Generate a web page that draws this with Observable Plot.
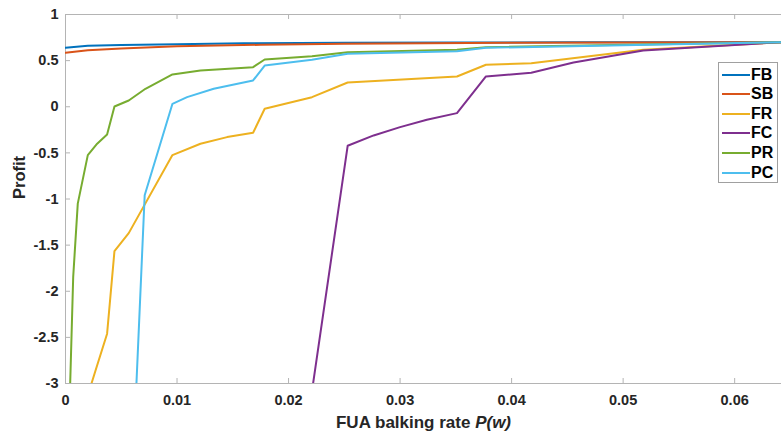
<!DOCTYPE html>
<html><head><meta charset="utf-8">
<script src="https://cdn.jsdelivr.net/npm/d3@7"></script>
<script src="https://cdn.jsdelivr.net/npm/@observablehq/plot@0.6"></script>
<style>
body{margin:0;background:#fff;}
#wrap{position:relative;width:781px;height:431px;overflow:hidden}
#legend{position:absolute;left:718px;top:62px;width:60px;height:121px;border:1px solid #a0a0a0;background:#fff;box-sizing:border-box;font:bold 16px "Liberation Sans",Arial,sans-serif;color:#000}
.item{position:absolute;left:0;height:20px;display:flex;align-items:center;white-space:nowrap}
.sw{width:28px;height:2px;margin-left:3px;margin-right:1px}
</style></head><body><div id="wrap"><div id="legend"></div></div>
<script>
const seriesNames = ["FB", "SB", "FR", "FC", "PR", "PC"];
const seriesColors = ["#0072BD", "#D95319", "#EDB120", "#7E2F8E", "#77AC30", "#4DBEEE"];

const fbX = [0, 0.002, 0.005, 0.01, 0.016, 0.025, 0.035, 0.045, 0.055, 0.0642];
const fbY = [0.640, 0.660, 0.670, 0.678, 0.688, 0.693, 0.696, 0.698, 0.699, 0.700];

const sbX = [0, 0.001, 0.002, 0.005, 0.01, 0.0175, 0.025, 0.04, 0.05, 0.0642];
const sbY = [0.585, 0.600, 0.612, 0.632, 0.655, 0.672, 0.682, 0.693, 0.697, 0.700];

const frX = [0.00233, 0.0027, 0.00373, 0.00439, 0.00567, 0.00959, 0.0121, 0.01449, 0.01682, 0.01786, 0.0221, 0.0253, 0.0351, 0.0377, 0.04176, 0.0518, 0.0642];
const frY = [-3, -2.857, -2.46, -1.565, -1.37, -0.524, -0.401, -0.329, -0.282, -0.022, 0.104, 0.263, 0.328, 0.455, 0.472, 0.617, 0.700];

const fcX = [0.0222, 0.0253, 0.02763, 0.0300, 0.0324, 0.0351, 0.0377, 0.04176, 0.04555, 0.0518, 0.0642];
const fcY = [-3, -0.423, -0.311, -0.221, -0.141, -0.069, 0.328, 0.368, 0.480, 0.610, 0.700];

const prX = [0.00042, 0.00069, 0.0011, 0.002, 0.00284, 0.00373, 0.00439, 0.00567, 0.00717, 0.00959, 0.0121, 0.01682, 0.01786, 0.0221, 0.0253, 0.0351, 0.0377, 0.0642];
const prY = [-3, -1.846, -1.05, -0.524, -0.40, -0.30, 0.003, 0.068, 0.195, 0.350, 0.393, 0.429, 0.512, 0.548, 0.592, 0.617, 0.646, 0.700];

const pcX = [0.00636, 0.0071, 0.00959, 0.0109, 0.01329, 0.01682, 0.01786, 0.0221, 0.0253, 0.0351, 0.0377, 0.0642];
const pcY = [-3, -0.96, 0.032, 0.104, 0.195, 0.285, 0.447, 0.509, 0.574, 0.602, 0.639, 0.700];

const xTicks = [0, 0.01, 0.02, 0.03, 0.04, 0.05, 0.06];
const xTickLabels = ["0", "0.01", "0.02", "0.03", "0.04", "0.05", "0.06"];
const yTicks = [-3, -2.5, -2, -1.5, -1, -0.5, 0, 0.5, 1];
const yTickLabels = ["-3", "-2.5", "-2", "-1.5", "-1", "-0.5", "0", "0.5", "1"];
const xTitle = "FUA balking rate P(w)";
const yTitle = "Profit";

const seriesXY = [[fbX, fbY], [sbX, sbY], [frX, frY], [fcX, fcY], [prX, prY], [pcX, pcY]];
const data = seriesNames.flatMap((name, i) =>
  seriesXY[i][0].map((x, j) => ({series: name, x, y: seriesXY[i][1][j]})));

const axisGray = "#b4b4b4";
const txt = {fill: "#262626", fontWeight: "bold", fontFamily: "'Liberation Sans', Arial, sans-serif"};
const plot = Plot.plot({
  width: 781, height: 431,
  marginLeft: 65, marginRight: 0, marginTop: 14, marginBottom: 48,
  x: {domain: [0, 0.0642], axis: null},
  y: {domain: [-3, 1], axis: null},
  color: {domain: seriesNames, range: seriesColors},
  style: {fontFamily: "'Liberation Sans', Arial, sans-serif", fontWeight: "bold", fontSize: "14px", color: "#262626", background: "white", overflow: "visible"},
  marks: [
    Plot.ruleY([-3, 1], {stroke: axisGray, strokeWidth: 1}),
    Plot.ruleX([0], {stroke: axisGray, strokeWidth: 1}),
    Plot.ruleX(xTicks, {x: d => d, y1: -3, y2: -3, insetTop: -5, stroke: axisGray}),
    Plot.ruleX(xTicks, {x: d => d, y1: 1, y2: 1, insetBottom: -5, stroke: axisGray}),
    Plot.ruleY(yTicks, {y: d => d, x1: 0, x2: 0, insetRight: -5, stroke: axisGray}),
    Plot.line(data, {x: "x", y: "y", z: "series", stroke: "series", strokeWidth: 2, clip: true, strokeLinejoin: "round"}),
    Plot.text(xTicks, {...txt, x: d => d, frameAnchor: "bottom", lineAnchor: "top", dy: 11, fontSize: 14.5, text: (d, i) => xTickLabels[i]}),
    Plot.text(yTicks, {...txt, y: d => d, frameAnchor: "left", textAnchor: "end", lineAnchor: "middle", dx: -7, fontSize: 14.5, text: (d, i) => yTickLabels[i]}),
    Plot.text([xTitle], {...txt, text: d => d, frameAnchor: "bottom", lineAnchor: "top", dy: 32, fontSize: 17}),
    Plot.text([yTitle], {...txt, text: d => d, frameAnchor: "left", rotate: -90, lineAnchor: "middle", dx: -46, fontSize: 16.5})
  ]
});
document.getElementById("wrap").insertBefore(plot, document.getElementById("legend"));

// italic P(w) in the x title
d3.select(plot).selectAll("text").filter(function() { return this.textContent === xTitle; })
  .each(function() {
    const t = d3.select(this);
    t.text("FUA balking rate ");
    t.append("tspan").attr("font-style", "italic").text("P(w)");
  });

const legend = document.getElementById("legend");
seriesNames.forEach((name, i) => {
  const item = document.createElement("div");
  item.className = "item";
  item.style.top = (1.5 + i * 19.65) + "px";
  const sw = document.createElement("div");
  sw.className = "sw";
  sw.style.background = seriesColors[i];
  const lab = document.createElement("span");
  lab.textContent = name;
  item.appendChild(sw);
  item.appendChild(lab);
  legend.appendChild(item);
});
</script>
</body></html>
